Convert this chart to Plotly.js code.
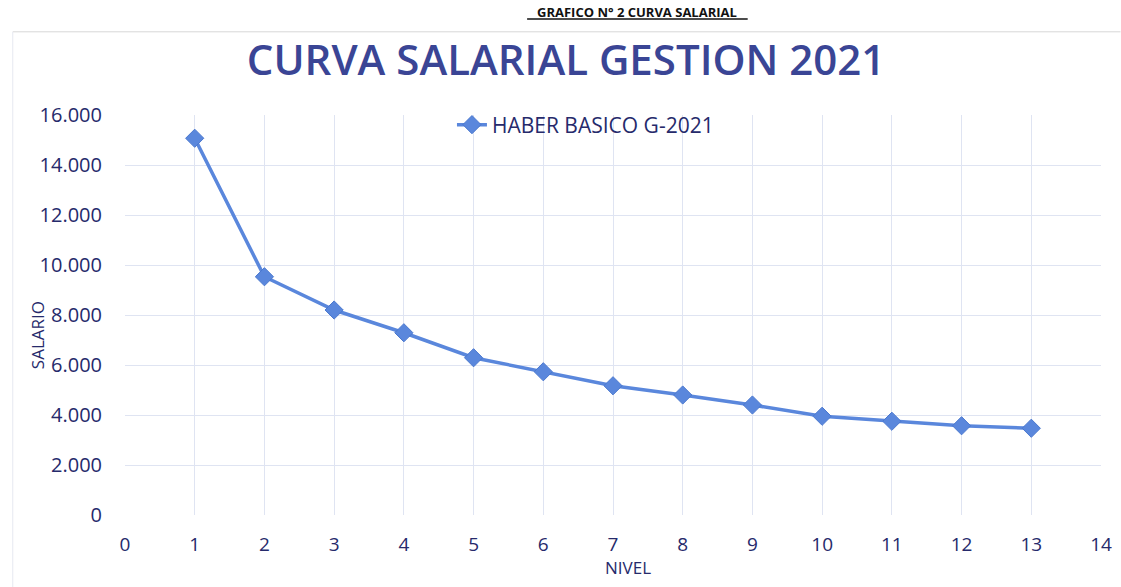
<!DOCTYPE html>
<html>
<head>
<meta charset="utf-8">
<script src="https://cdn.plot.ly/plotly-3.0.1.min.js"></script>
<style>html,body{margin:0;padding:0;background:#fff;}#chart{width:1121px;height:587px;}</style>
</head>
<body>
<div id="chart"></div>
<script>
const nivel = [1, 2, 3, 4, 5, 6, 7, 8, 9, 10, 11, 12, 13];
const haberBasico = [15070, 9530, 8200, 7290, 6290, 5730, 5170, 4800, 4400, 3950, 3750, 3570, 3470];
const seriesName = "HABER BASICO G-2021";
const chartTitle = "CURVA SALARIAL GESTION 2021";
const headerText = "GRAFICO N° 2 CURVA SALARIAL";
const xTitle = "NIVEL";
const yTitle = "SALARIO";

const navy = "#262a6b";
const blue = "#5a87dc";
const grid = "#dfe4f2";

const trace = {
  x: nivel, y: haberBasico, name: seriesName, type: "scatter", mode: "lines+markers",
  line: {color: blue, width: 3.5},
  marker: {symbol: "diamond", size: 14, color: blue, line: {color: "#4a78cf", width: 1}}
};

const layout = {
  width: 1121, height: 587,
  margin: {l: 125, r: 20, t: 115, b: 72},
  paper_bgcolor: "#ffffff", plot_bgcolor: "#ffffff",
  separators: ",.",
  font: {family: "Open Sans, Noto Sans, sans-serif", color: navy},
  title: {text: chartTitle, x: 0.505, xanchor: "center", y: 0.897, yanchor: "middle",
          font: {size: 42, weight: 600, color: "#3a4595", family: "Open Sans, sans-serif"}},
  showlegend: true,
  legend: {x: 0.335, xanchor: "left", y: 0.975, yanchor: "middle", bgcolor: "rgba(0,0,0,0)",
           font: {size: 21, color: navy}},
  xaxis: {range: [0, 14], dtick: 1, tick0: 0, showgrid: true, gridcolor: grid, gridwidth: 1,
          zeroline: false, showline: false, ticks: "outside", ticklen: 12, tickcolor: "rgba(0,0,0,0)",
          tickfont: {size: 19, color: navy}},
  yaxis: {range: [0, 16000], dtick: 2000, showgrid: true, gridcolor: grid, gridwidth: 1,
          zeroline: false, showline: false, tickformat: ",.0f", ticks: "outside", ticklen: 18,
          tickcolor: "rgba(0,0,0,0)", tickfont: {size: 20, color: navy}},
  annotations: [
    {text: xTitle, xref: "paper", yref: "paper", x: 0.515, y: -0.132, xanchor: "center", yanchor: "middle",
     showarrow: false, font: {size: 17, color: navy}},
    {text: yTitle, xref: "paper", yref: "paper", x: -0.09, y: 0.45, xanchor: "center", yanchor: "middle",
     textangle: -90, showarrow: false, font: {size: 17, color: navy}},
    {text: "<b>" + headerText + "</b>", xref: "paper", yref: "paper", x: 0.525, y: 1.258, xanchor: "center",
     yanchor: "middle", showarrow: false, font: {size: 13, color: "#111"}}
  ],
  shapes: [
    {type: "line", xref: "paper", yref: "paper", x0: 0.412, x1: 0.638, y0: 1.24, y1: 1.24, line: {color: "#111", width: 1.5}},
    {type: "line", xref: "paper", yref: "paper", x0: -0.115, x1: 1.02, y0: 1.208, y1: 1.208, line: {color: "#d8d8d8", width: 1}},
    {type: "line", xref: "paper", yref: "paper", x0: -0.115, x1: -0.115, y0: 1.208, y1: -0.18, line: {color: "#e6e8f0", width: 1}}
  ]
};

Plotly.newPlot("chart", [trace], layout, {displayModeBar: false, staticPlot: true});
</script>
</body>
</html>
